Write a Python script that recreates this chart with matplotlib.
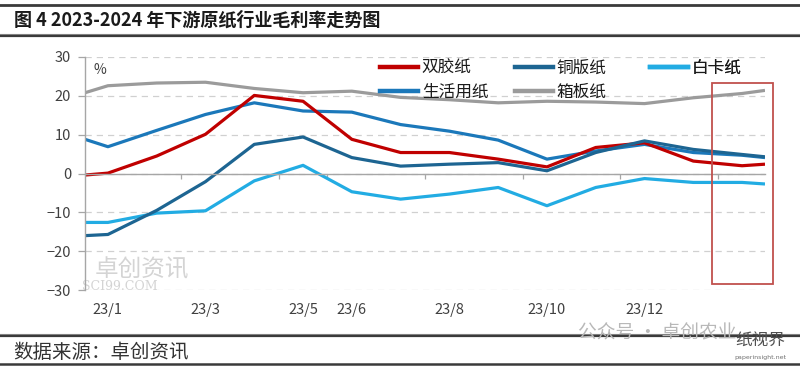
import matplotlib
matplotlib.use("Agg")
import matplotlib.pyplot as plt
from matplotlib.lines import Line2D
from matplotlib.patches import Rectangle
import matplotlib.transforms as mtransforms

plt.rcParams['font.family'] = ['Noto Sans CJK SC', 'DejaVu Sans']
plt.rcParams['axes.unicode_minus'] = True

# ---------------- data ----------------
# month offsets from 2023-01 (0 = 23/1)
periods = [-0.47, 0, 1, 2, 3, 4, 5, 6, 7, 8, 9, 10, 11, 12, 13, 13.47]

series_names = ['双胶纸', '铜版纸', '白卡纸', '生活用纸', '箱板纸']
shuangjiao = [-0.4, 0.1, 4.5, 10.1, 20.1, 18.6, 8.8, 5.4, 5.4, 3.7, 1.7, 6.7, 7.9, 3.2, 2.0, 2.4]
tongban    = [-16.0, -15.7, -9.5, -2.1, 7.5, 9.4, 4.1, 1.9, 2.4, 2.8, 0.7, 5.4, 8.4, 6.2, 4.9, 4.3]
baika      = [-12.6, -12.6, -10.2, -9.6, -1.9, 2.1, -4.7, -6.6, -5.3, -3.6, -8.3, -3.6, -1.3, -2.3, -2.3, -2.7]
shenghuo   = [8.8, 6.9, 11.1, 15.2, 18.2, 16.1, 15.8, 12.6, 10.9, 8.6, 3.7, 5.8, 7.5, 5.4, 4.7, 4.1]
xiangban   = [20.8, 22.6, 23.3, 23.5, 21.9, 20.8, 21.2, 19.6, 19.0, 18.2, 18.6, 18.4, 18.0, 19.5, 20.6, 21.4]

xlabel_pos = [0, 2, 4, 5, 7, 9, 11]
xlabels = ['23/1', '23/3', '23/5', '23/6', '23/8', '23/10', '23/12']
xtick_marks = [1.5, 3.5, 4.5, 6.5, 8.5, 10.5, 12.5]
yticks = [-30, -20, -10, 0, 10, 20, 30]

# highlighted region (2024)
box_x = [12.38, 13.63]
box_y = [-28.4, 23.2]

colors = {
    '双胶纸': '#C00000',
    '铜版纸': '#1D6592',
    '白卡纸': '#22ACE3',
    '生活用纸': '#1B78BA',
    '箱板纸': '#9B9B9B',
}
values = {
    '双胶纸': shuangjiao,
    '铜版纸': tongban,
    '白卡纸': baika,
    '生活用纸': shenghuo,
    '箱板纸': xiangban,
}

# ---------------- figure ----------------
W, H = 800, 370
fig = plt.figure(figsize=(W / 100, H / 100), dpi=100)
fig.patch.set_facecolor('white')

ax = fig.add_axes([85 / W, 1 - 290 / H, 680 / W, 233 / H])
ax.set_xlim(periods[0], periods[-1])
ax.set_ylim(-30, 30)

for s in ['top', 'right']:
    ax.spines[s].set_visible(False)
ax.spines['left'].set_color('#A6A6A6')
ax.spines['left'].set_linewidth(1.0)
ax.spines['bottom'].set_position(('data', 0))
ax.spines['bottom'].set_color('#A6A6A6')
ax.spines['bottom'].set_linewidth(1.0)

ax.set_yticks(yticks)
ax.set_yticklabels([f'{v:d}'.replace('-', '\u2212') for v in yticks])
ax.tick_params(axis='y', direction='out', length=5, width=0.9, color='#A6A6A6',
               labelsize=10.5, labelcolor='#404040', pad=5)
ax.set_xticks(xtick_marks)
ax.set_xticklabels([])
ax.tick_params(axis='x', direction='out', length=3.5, width=0.9, color='#A6A6A6')

ax.yaxis.grid(True, linestyle=(0, (5, 4)), color='#D0D0D0', linewidth=0.9)
ax.set_axisbelow(True)

trans = mtransforms.blended_transform_factory(ax.transData, ax.transAxes)
for p, lab in zip(xlabel_pos, xlabels):
    ax.text(p, -0.085, lab, transform=trans, ha='center', va='center',
            fontsize=10.5, color='#404040')

ax.text(0.022, 0.944, '%', transform=ax.transAxes, ha='center', va='center',
        fontsize=10, color='#404040')

draw_order = ['箱板纸', '白卡纸', '生活用纸', '双胶纸', '铜版纸']
for name in draw_order:
    ax.plot(periods, values[name], color=colors[name], lw=2.3,
            solid_joinstyle='round', solid_capstyle='butt', label=name)

# legend: three columns
leg_kw = dict(frameon=False, fontsize=12, handlelength=2.3, handletextpad=0.2,
              borderpad=0, borderaxespad=0, labelspacing=0.4, loc='upper left')
col_x = [(380 - 85) / 680, (515 - 85) / 680, (650 - 85) / 680]
top_y = (290 - 60) / 233
cols = [['双胶纸', '生活用纸'], ['铜版纸', '箱板纸'], ['白卡纸']]
for cx, names in zip(col_x, cols):
    handles = [Line2D([], [], color=colors[n], lw=3.2) for n in names]
    lg = ax.legend(handles, names, bbox_to_anchor=(cx, top_y), **leg_kw)
    for t in lg.get_texts():
        t.set_color('#1a1a1a')
    ax.add_artist(lg)

ax.add_patch(Rectangle((box_x[0], box_y[0]), box_x[1] - box_x[0], box_y[1] - box_y[0],
                       fill=False, edgecolor='#C0504D', lw=1.3, clip_on=False, zorder=5))

# watermark (source)
ax.text(95 / W, 1 - 270 / H, '卓创资讯', transform=fig.transFigure, fontsize=17,
        color='#D4D4D4', ha='left', va='center', zorder=0)
ax.text(82 / W, 1 - 287 / H, 'SCI99.COM', transform=fig.transFigure, fontsize=9,
        color='#D4D4D4', ha='left', va='center', family=['DejaVu Serif'], zorder=0)

# ---------------- frame / title ----------------
def hline(y, lw, color):
    fig.add_artist(Line2D([0, 1], [1 - y / H, 1 - y / H], transform=fig.transFigure,
                          color=color, lw=lw))

hline(4.5, 2.0, '#3a3a3a')
hline(34, 0.8, '#8a8a8a')
hline(36, 1.6, '#3a3a3a')
hline(334, 0.8, '#8a8a8a')
hline(336, 1.6, '#3a3a3a')
hline(364, 1.8, '#3a3a3a')

fig.text(14 / W, 1 - 20 / H, '图 4 2023-2024 年下游原纸行业毛利率走势图',
         fontsize=13, fontweight='bold', color='#1a1a1a', ha='left', va='center')
fig.text(13 / W, 1 - 352 / H, '数据来源：卓创资讯', fontsize=14, color='#333333',
         ha='left', va='center')

fig.text(578 / W, 1 - 333 / H, '公众号 · 卓创农业', fontsize=13.5, color='#B8B8B8',
         ha='left', va='center')
fig.text(735 / W, 1 - 341 / H, '纸视界', fontsize=12, color='#505050',
         ha='left', va='center')
fig.text(734 / W, 1 - 358 / H, 'paperinsight.net', fontsize=4.5, color='#707070',
         ha='left', va='center', family=['DejaVu Sans'])

fig.savefig('out.png', dpi=100, facecolor='white')
